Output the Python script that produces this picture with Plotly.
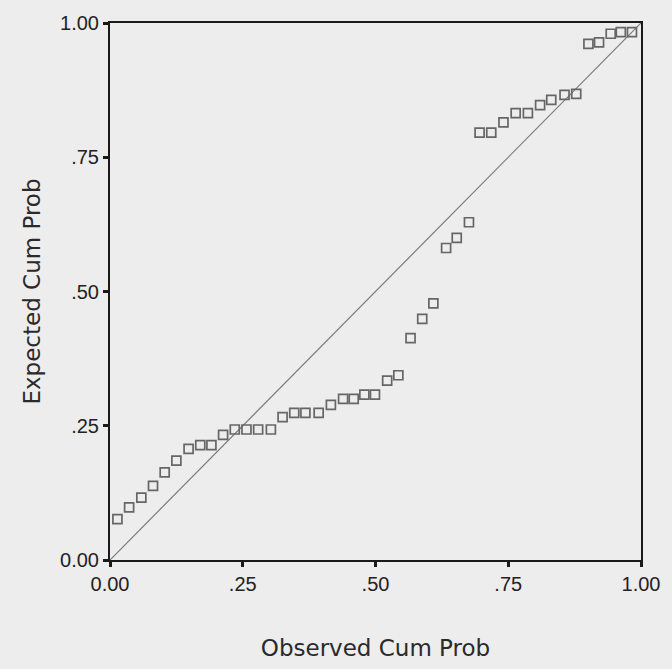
import plotly.graph_objects as go

# Observed vs. expected cumulative probabilities (P-P plot)
observed_cum_prob = [
    0.014, 0.036, 0.059, 0.081, 0.103, 0.125, 0.148, 0.170, 0.191, 0.213,
    0.235, 0.257, 0.279, 0.303, 0.325, 0.347, 0.368, 0.393, 0.416, 0.439,
    0.459, 0.479, 0.499, 0.522, 0.543, 0.566, 0.588, 0.609, 0.633, 0.653,
    0.676, 0.696, 0.718, 0.741, 0.764, 0.787, 0.810, 0.831, 0.856, 0.878,
    0.901, 0.921, 0.943, 0.962, 0.983,
]
expected_cum_prob = [
    0.076, 0.098, 0.116, 0.138, 0.163, 0.185, 0.207, 0.214, 0.214, 0.233,
    0.243, 0.243, 0.243, 0.243, 0.266, 0.274, 0.274, 0.274, 0.289, 0.300,
    0.300, 0.308, 0.308, 0.334, 0.344, 0.413, 0.449, 0.478, 0.581, 0.600,
    0.629, 0.796, 0.796, 0.815, 0.832, 0.832, 0.847, 0.857, 0.866, 0.868,
    0.961, 0.964, 0.980, 0.983, 0.983,
]
reference_line = [0.0, 1.0]
tick_values = [0.0, 0.25, 0.5, 0.75, 1.0]
tick_labels = ["0.00", ".25", ".50", ".75", "1.00"]

TICK_FONT = "Liberation Sans, Arial, sans-serif"
TITLE_FONT = "DejaVu Sans, Verdana, sans-serif"
BG = "#ededed"

fig = go.Figure()

# diagonal reference line
fig.add_trace(go.Scatter(
    x=reference_line, y=reference_line, mode="lines",
    line=dict(color="#7a7a7a", width=1.2),
    hoverinfo="skip", showlegend=False,
))

# observed points
fig.add_trace(go.Scatter(
    x=observed_cum_prob, y=expected_cum_prob, mode="markers",
    marker=dict(symbol="square-open", size=9, color="#666666",
                line=dict(width=1.7, color="#666666")),
    cliponaxis=False, showlegend=False,
))

axis_common = dict(
    range=[0, 1], tickvals=tick_values, ticktext=tick_labels,
    showgrid=False, zeroline=False, showline=True, mirror=True,
    linecolor="#1a1a1a", linewidth=2,
    ticks="outside", ticklen=5, tickwidth=3, tickcolor="#1a1a1a",
    tickfont=dict(family=TICK_FONT, size=20, color="#222222"),
)

fig.update_xaxes(
    **axis_common,
    title=dict(text="Observed Cum Prob", standoff=46,
               font=dict(family=TITLE_FONT, size=23, color="#2a2a2a")),
)
fig.update_yaxes(
    **axis_common,
    title=dict(text="Expected Cum Prob", standoff=13,
               font=dict(family=TITLE_FONT, size=23, color="#2a2a2a")),
)

# faint variable name showing through from the page behind
fig.add_annotation(
    x=0.484, y=-0.0995, xref="x", yref="y", text="Educational level",
    showarrow=False, font=dict(family=TICK_FONT, size=22, color="#dddddd"),
)

fig.update_layout(
    width=672, height=669,
    margin=dict(l=110, r=21, t=19, b=107),
    paper_bgcolor=BG, plot_bgcolor=BG,
)

fig.write_html("out.html")
